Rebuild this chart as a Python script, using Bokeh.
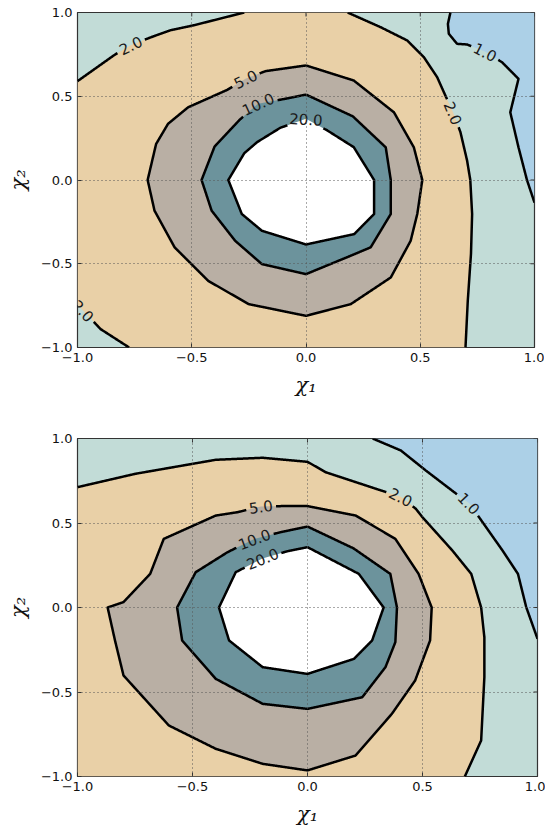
import math
import numpy as np
from bokeh.plotting import figure
from bokeh.layouts import column
from bokeh.models import Range1d, FixedTicker
from bokeh.core.properties import value
from bokeh.embed import file_html
from bokeh.resources import INLINE

# ---------------- data ----------------
TICKS = [-1.0, -0.5, 0.0, 0.5, 1.0]
TICK_LABELS = ["\u22121.0", "\u22120.5", "0.0", "0.5", "1.0"]

COL_LT1 = "#acd0e7"    # < 1
COL_1_2 = "#c2dcd7"    # 1 - 2
COL_2_5 = "#e9d0a7"    # 2 - 5
COL_5_10 = "#b9afa4"   # 5 - 10
COL_10_20 = "#6c939c"  # 10 - 20
COL_GT20 = "#ffffff"   # > 20

# ---- top panel contours ----
top_c1_x = [0.632, 0.621, 0.625, 0.661, 0.705, 0.785, 0.858, 0.930, 0.894, 0.930, 0.967, 1.0]
top_c1_y = [1.0, 0.932, 0.873, 0.813, 0.809, 0.765, 0.703, 0.604, 0.404, 0.195, 0.0, -0.135]

top_c2a_x = [-1.0, -0.84, -0.768, -0.673, -0.593, -0.49, -0.27]
top_c2a_y = [0.59, 0.745, 0.805, 0.855, 0.894, 0.924, 1.0]

top_c2b_x = [0.182, 0.327, 0.443, 0.516, 0.574, 0.610, 0.645, 0.676, 0.705, 0.719, 0.727, 0.722, 0.708, 0.698]
top_c2b_y = [1.0, 0.912, 0.833, 0.733, 0.614, 0.504, 0.40, 0.285, 0.116, 0.0, -0.203, -0.442, -0.721, -1.0]

top_c2c_x = [-1.0, -0.975, -0.899, -0.774]
top_c2c_y = [-0.745, -0.78, -0.89, -1.0]

top_c5_x = [0.0, -0.177, -0.265, -0.345, -0.516, -0.604, -0.656, -0.693, -0.663, -0.575, -0.428,
            -0.251, 0.0, 0.196, 0.371, 0.458, 0.487, 0.509, 0.472, 0.385, 0.209]
top_c5_y = [0.684, 0.650, 0.604, 0.538, 0.434, 0.335, 0.215, 0.0, -0.183, -0.402, -0.602,
            -0.741, -0.811, -0.741, -0.582, -0.363, -0.203, 0.0, 0.195, 0.404, 0.594]

top_c10_x = [0.0, -0.09, -0.21, -0.29, -0.40, -0.457, -0.413, -0.310, -0.193, 0.0, 0.196,
             0.283, 0.371, 0.371, 0.349, 0.205]
top_c10_y = [0.51, 0.485, 0.455, 0.36, 0.20, 0.0, -0.183, -0.363, -0.502, -0.562, -0.452,
             -0.402, -0.203, 0.0, 0.195, 0.38]

top_c20_x = [0.0, -0.112, -0.214, -0.27, -0.34, -0.281, -0.193, 0.0, 0.211, 0.298, 0.298, 0.209, 0.093]
top_c20_y = [0.365, 0.312, 0.226, 0.16, 0.0, -0.203, -0.303, -0.385, -0.323, -0.203, 0.0, 0.196, 0.296]

top_label_text = ["1.0", "2.0", "2.0", "2.0", "5.0", "10.0", "20.0"]
top_label_x = [0.785, -0.768, 0.645, -0.975, -0.265, -0.21, 0.0]
top_label_y = [0.765, 0.805, 0.40, -0.78, 0.604, 0.455, 0.365]

# ---- bottom panel contours ----
bot_c1_x = [0.283, 0.406, 0.514, 0.638, 0.703, 0.761, 0.848, 0.915, 0.951, 1.0]
bot_c1_y = [1.0, 0.929, 0.811, 0.682, 0.617, 0.505, 0.337, 0.199, 0.002, -0.185]

bot_c2_x = [-1.0, -0.749, -0.399, -0.195, 0.0, 0.08, 0.312, 0.406, 0.471, 0.5, 0.630, 0.712,
            0.755, 0.769, 0.769, 0.755, 0.684]
bot_c2_y = [0.712, 0.791, 0.874, 0.886, 0.862, 0.80, 0.696, 0.655, 0.584, 0.534, 0.337, 0.199,
            0.0, -0.176, -0.412, -0.787, -1.0]

bot_c5_x = [0.0, -0.109, -0.203, -0.304, -0.399, -0.625, -0.684, -0.800, -0.869, -0.837, -0.800,
            -0.603, -0.399, -0.195, 0.0, 0.209, 0.367, 0.468, 0.533, 0.540, 0.483, 0.382, 0.21]
bot_c5_y = [0.6, 0.6, 0.598, 0.564, 0.544, 0.406, 0.199, 0.032, 0.0, -0.195, -0.402,
            -0.698, -0.836, -0.925, -0.964, -0.876, -0.629, -0.432, -0.195, 0.0, 0.199, 0.406, 0.544]

bot_c10_x = [0.0, -0.116, -0.232, -0.348, -0.486, -0.567, -0.545, -0.399, -0.195, 0.0, 0.238,
             0.339, 0.382, 0.389, 0.360, 0.20]
bot_c10_y = [0.479, 0.446, 0.406, 0.327, 0.209, 0.0, -0.195, -0.422, -0.570, -0.600, -0.531,
             -0.353, -0.205, 0.0, 0.199, 0.35]

bot_c20_x = [0.0, -0.087, -0.196, -0.312, -0.385, -0.341, -0.195, 0.0, 0.202, 0.281, 0.331, 0.223]
bot_c20_y = [0.357, 0.333, 0.29, 0.209, 0.0, -0.195, -0.353, -0.393, -0.304, -0.195, 0.0, 0.199]

bot_label_text = ["1.0", "2.0", "5.0", "10.0", "20.0"]
bot_label_x = [0.703, 0.406, -0.203, -0.232, -0.196]
bot_label_y = [0.617, 0.655, 0.598, 0.406, 0.29]

LABEL_FONT_PX = 15


# ---------------- helpers ----------------
def label_halfwidth(txt):
    w = 0.0
    for ch in txt:
        w += 0.318 if ch == "." else 0.636
    return w * LABEL_FONT_PX / 2.0 + 3.0


def gapped_line(xs, ys, closed, labels, sx, sy):
    X = list(xs)
    Y = list(ys)
    if closed:
        X.append(xs[0])
        Y.append(ys[0])
    ox, oy = [], []
    for i in range(len(X) - 1):
        x0, y0, x1, y1 = X[i], Y[i], X[i + 1], Y[i + 1]
        L = math.hypot((x1 - x0) * sx, (y1 - y0) * sy)
        n = max(1, int(math.ceil(L / 0.5)))
        last = 1 if i == len(X) - 2 else 0
        for k in range(n + last):
            t = k / n
            ox.append(x0 + (x1 - x0) * t)
            oy.append(y0 + (y1 - y0) * t)
    px = np.array(ox)
    py = np.array(oy)
    mask = np.ones(len(px), dtype=bool)
    for (txt, cx, cy) in labels:
        d = np.hypot((px - cx) * sx, (py - cy) * sy)
        mask &= d > label_halfwidth(txt)
    return np.where(mask, px, np.nan), np.where(mask, py, np.nan)


def label_angle(xs, ys, closed, lx, ly, sx, sy):
    d = [math.hypot((x - lx) * sx, (y - ly) * sy) for x, y in zip(xs, ys)]
    i = int(np.argmin(d))
    n = len(xs)
    if closed:
        a, b = (i - 1) % n, (i + 1) % n
    else:
        a, b = max(i - 1, 0), min(i + 1, n - 1)
    ang = math.atan2((ys[b] - ys[a]) * sy, (xs[b] - xs[a]) * sx)
    if ang > math.pi / 2:
        ang -= math.pi
    if ang < -math.pi / 2:
        ang += math.pi
    return ang


def make_panel(fw, fh, bl, br, bt, bb, fills, lines, lab_text, lab_x, lab_y):
    p = figure(frame_width=fw, frame_height=fh,
               min_border_left=bl, min_border_right=br, min_border_top=bt, min_border_bottom=bb,
               x_range=Range1d(-1, 1), y_range=Range1d(-1, 1),
               output_backend="svg", toolbar_location=None)
    p.background_fill_color = COL_1_2
    p.border_fill_color = "white"
    p.outline_line_color = "#333333"
    p.outline_line_width = 1.2

    overrides = {t: s for t, s in zip(TICKS, TICK_LABELS)}
    for ax in (p.xaxis[0], p.yaxis[0]):
        ax.ticker = FixedTicker(ticks=TICKS)
        ax.major_label_overrides = overrides
        ax.major_tick_in = 4
        ax.major_tick_out = 0
        ax.minor_tick_line_color = None
        ax.axis_line_color = None
        ax.major_tick_line_color = "#333333"
        ax.major_label_text_font = "DejaVu Sans"
        ax.major_label_text_font_size = "13px"
        ax.major_label_text_color = "#111111"
        ax.major_label_standoff = 5
        ax.axis_label_text_font = "DejaVu Serif"
        ax.axis_label_text_font_style = "italic"
        ax.axis_label_text_font_size = "21px"
        ax.axis_label_text_color = "#111111"
    p.xaxis[0].axis_label = "\u03c7\u2081"
    p.yaxis[0].axis_label = "\u03c7\u2082"
    p.xaxis[0].axis_label_standoff = 8
    p.yaxis[0].axis_label_standoff = 8

    for g in (p.xgrid[0], p.ygrid[0]):
        g.ticker = FixedTicker(ticks=TICKS)
        g.grid_line_color = "#555555"
        g.grid_line_dash = "1 3"
        g.grid_line_width = 1
        g.level = "annotation"

    sx, sy = fw / 2.0, fh / 2.0
    for color, xs, ys in fills:
        p.patch(xs, ys, fill_color=color, line_color=None)

    labs = list(zip(lab_text, lab_x, lab_y))
    angles = [None] * len(labs)
    for xs, ys, closed in lines:
        own = []
        for j, (t, lx, ly) in enumerate(labs):
            dmin = min(math.hypot((x - lx) * sx, (y - ly) * sy) for x, y in zip(xs, ys))
            if dmin < 1.0:
                own.append((t, lx, ly))
                angles[j] = label_angle(xs, ys, closed, lx, ly, sx, sy)
        gx, gy = gapped_line(xs, ys, closed, own, sx, sy)
        p.line(gx, gy, line_color="black", line_width=2.5, line_join="round")

    p.text(x=lab_x, y=lab_y, text=lab_text, angle=[a if a is not None else 0 for a in angles],
           text_font=value("DejaVu Sans"), text_font_size=f"{LABEL_FONT_PX}px",
           text_align="center", text_baseline="middle", text_color="#1a1a1a")

    # inward ticks on the top and right edges of the frame
    n = len(TICKS)
    p.ray(x=TICKS, y=[1.0] * n, length=4, length_units="screen", angle=-math.pi / 2,
          line_color="#333333", line_width=1)
    p.ray(x=[1.0] * n, y=TICKS, length=4, length_units="screen", angle=math.pi,
          line_color="#333333", line_width=1)
    return p


# ---------------- top panel ----------------
top_fills = [
    (COL_LT1, top_c1_x + [1.0], top_c1_y + [1.0]),
    (COL_2_5, top_c2a_x + top_c2b_x + top_c2c_x[::-1], top_c2a_y + top_c2b_y + top_c2c_y[::-1]),
    (COL_5_10, top_c5_x, top_c5_y),
    (COL_10_20, top_c10_x, top_c10_y),
    (COL_GT20, top_c20_x, top_c20_y),
]
top_lines = [
    (top_c1_x, top_c1_y, False),
    (top_c2a_x, top_c2a_y, False),
    (top_c2b_x, top_c2b_y, False),
    (top_c2c_x, top_c2c_y, False),
    (top_c5_x, top_c5_y, True),
    (top_c10_x, top_c10_y, True),
    (top_c20_x, top_c20_y, True),
]
p1 = make_panel(457, 335, 77, 10, 12, 75, top_fills, top_lines,
                top_label_text, top_label_x, top_label_y)

# ---------------- bottom panel ----------------
bot_fills = [
    (COL_LT1, bot_c1_x + [1.0], bot_c1_y + [1.0]),
    (COL_2_5, bot_c2_x + [-1.0], bot_c2_y + [-1.0]),
    (COL_5_10, bot_c5_x, bot_c5_y),
    (COL_10_20, bot_c10_x, bot_c10_y),
    (COL_GT20, bot_c20_x, bot_c20_y),
]
bot_lines = [
    (bot_c1_x, bot_c1_y, False),
    (bot_c2_x, bot_c2_y, False),
    (bot_c5_x, bot_c5_y, True),
    (bot_c10_x, bot_c10_y, True),
    (bot_c20_x, bot_c20_y, True),
]
p2 = make_panel(460, 338, 75, 10, 16, 45, bot_fills, bot_lines,
                bot_label_text, bot_label_x, bot_label_y)

layout = column(p1, p2)
open("out.html", "w").write(file_html(layout, INLINE))
